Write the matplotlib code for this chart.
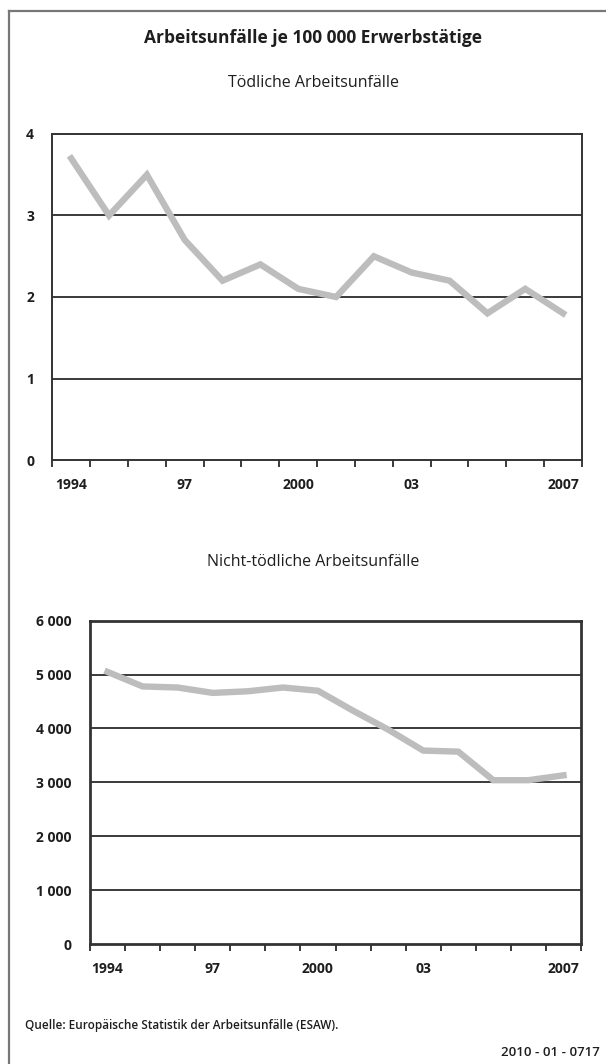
import matplotlib.pyplot as plt
import numpy as np
from matplotlib.lines import Line2D

years = list(range(1994, 2008))
fatal = [3.7, 3.0, 3.5, 2.7, 2.2, 2.4, 2.1, 2.0, 2.5, 2.3, 2.2, 1.8, 2.1, 1.8]
nonfatal = [5050, 4780, 4760, 4660, 4690, 4760, 4700, 4330, 3980, 3590, 3570, 3040, 3040, 3130]
year_labels = ['1994', '97', '2000', '03', '2007']
year_label_pos = [1994, 1997, 2000, 2003, 2007]

title = 'Arbeitsunfälle je 100 000 Erwerbstätige'
sub1 = 'Tödliche Arbeitsunfälle'
sub2 = 'Nicht-tödliche Arbeitsunfälle'
source = 'Quelle: Europäische Statistik der Arbeitsunfälle (ESAW).'
code = '2010 - 01 - 0717'

plt.rcParams['font.family'] = ['Open Sans', 'DejaVu Sans']

W, H = 606, 1064
fig = plt.figure(figsize=(W / 100, H / 100), dpi=100)

line_col = '#bdbdbd'
grid_col = '#2b2b2b'
txt_col = '#1e1e1e'


def px_axes(l, t, r, b):
    return fig.add_axes([l / W, 1 - b / H, (r - l) / W, (b - t) / H])


def style(ax, values, yticks, ylabels, frame_lw):
    x = np.arange(len(years))
    ax.plot(x, values, color=line_col, lw=4.6, zorder=3, solid_joinstyle='miter')
    ax.set_xlim(-0.5, len(years) - 0.5)
    ax.set_ylim(yticks[0], yticks[-1])
    for y in yticks[1:-1]:
        ax.axhline(y, color=grid_col, lw=1.3, zorder=2)
    ax.set_yticks(yticks)
    ax.set_yticklabels(ylabels, fontsize=10, fontweight='bold', color=txt_col)
    ax.tick_params(axis='y', length=0, pad=13)
    ax.set_xticks(np.arange(len(years) + 1) - 0.5)
    ax.set_xticklabels([])
    ax.tick_params(axis='x', which='major', direction='out', length=5, width=1.3, color=grid_col)
    pos = [years.index(p) for p in year_label_pos]
    ax.set_xticks(pos, minor=True)
    ax.set_xticklabels(year_labels, minor=True, fontsize=10, fontweight='bold', color=txt_col)
    ax.tick_params(axis='x', which='minor', length=0, pad=13)
    for s in ax.spines.values():
        s.set_color('#333333')
        s.set_linewidth(frame_lw)


ax1 = px_axes(52.3, 134, 582, 460)
style(ax1, fatal, [0, 1, 2, 3, 4], ['0', '1', '2', '3', '4'], 1.4)

ax2 = px_axes(90, 620.7, 581, 944)
style(ax2, nonfatal, [0, 1000, 2000, 3000, 4000, 5000, 6000],
      ['0', '1 000', '2 000', '3 000', '4 000', '5 000', '6 000'], 2.0)

fig.text(313 / W, 1 - 38 / H, title, ha='center', va='center', fontsize=12.5, fontweight='bold', color=txt_col)
fig.text(313 / W, 1 - 83 / H, sub1, ha='center', va='center', fontsize=11.5, fontweight='medium', color=txt_col)
fig.text(313 / W, 1 - 562 / H, sub2, ha='center', va='center', fontsize=11.5, fontweight='medium', color=txt_col)
fig.text(25 / W, 1 - 1025 / H, source, ha='left', va='center', fontsize=8.5, fontweight='semibold', color=txt_col)
fig.text(600 / W, 1 - 1052 / H, code, ha='right', va='center', fontsize=9.5, fontweight='semibold', color=txt_col)

# outer frame (left and top edges)
fig.add_artist(Line2D([8.7 / W, 8.7 / W], [0, 1 - 10.7 / H], color='#777777', lw=1.6))
fig.add_artist(Line2D([8.7 / W, 1], [1 - 10.7 / H, 1 - 10.7 / H], color='#777777', lw=1.6))

fig.savefig('out.png', dpi=100)
